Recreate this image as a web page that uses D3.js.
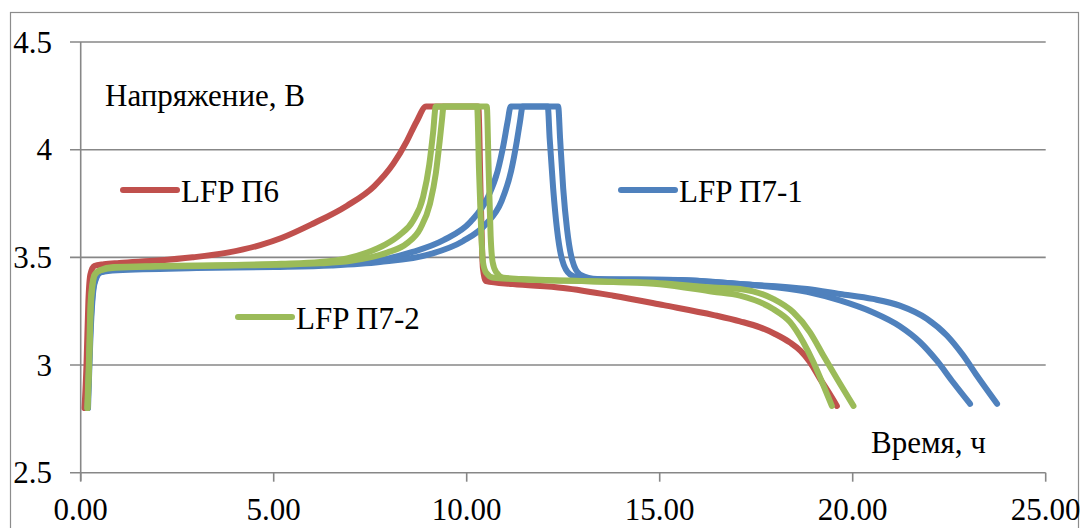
<!DOCTYPE html>
<html>
<head>
<meta charset="utf-8">
<script src="https://cdn.jsdelivr.net/npm/d3@7"></script>
<style>
  html, body { margin: 0; padding: 0; background: #fff; }
  svg { display: block; }
  text { font-family: "Liberation Serif", "Times New Roman", serif; fill: #000; }
</style>
</head>
<body>
<svg id="chart" width="1086" height="528"></svg>
<script>
// Charge/discharge curves: [time, h ; voltage, V]
const lfpP6 = [
  [0.10, 2.80], [0.15, 3.00], [0.20, 3.30], [0.25, 3.42], [0.35, 3.46], [0.60, 3.468],
  [1.00, 3.474], [2.00, 3.485], [2.90, 3.50], [3.80, 3.522], [4.65, 3.557], [5.20, 3.59],
  [6.00, 3.655], [6.90, 3.74], [7.60, 3.83], [8.10, 3.935], [8.45, 4.04], [8.70, 4.13],
  [8.95, 4.20], [10.30, 4.20], [10.36, 3.80], [10.42, 3.45], [10.50, 3.39], [11.20, 3.376],
  [12.50, 3.358], [13.80, 3.322], [15.10, 3.278], [16.40, 3.232], [17.08, 3.203], [17.60, 3.175],
  [18.00, 3.143], [18.38, 3.104], [18.65, 3.066], [18.89, 3.014], [19.15, 2.937], [19.37, 2.875],
  [19.59, 2.81]
];

const lfpP71a = [
  [0.18, 2.80], [0.26, 3.20], [0.35, 3.38], [0.50, 3.43], [0.90, 3.445], [3.00, 3.455],
  [5.00, 3.46], [6.50, 3.468], [7.75, 3.487], [8.60, 3.525], [9.40, 3.58], [10.10, 3.665],
  [10.55, 3.78], [10.80, 3.90], [10.95, 4.02], [11.06, 4.13], [11.14, 4.20], [12.10, 4.20],
  [12.15, 4.05], [12.24, 3.82], [12.34, 3.63], [12.47, 3.49], [12.68, 3.42], [13.00, 3.40],
  [15.50, 3.395], [17.08, 3.376], [18.82, 3.34], [19.67, 3.30], [20.52, 3.245], [21.22, 3.18],
  [21.74, 3.107], [22.18, 3.02], [22.60, 2.92], [23.04, 2.82]
];

const lfpP71b = [
  [0.19, 2.80], [0.27, 3.20], [0.36, 3.38], [0.52, 3.43], [0.95, 3.44], [3.00, 3.45],
  [5.00, 3.455], [6.50, 3.462], [7.75, 3.478], [9.05, 3.515], [9.90, 3.575], [10.50, 3.655],
  [10.90, 3.76], [11.15, 3.90], [11.30, 4.04], [11.38, 4.13], [11.45, 4.20], [12.37, 4.20],
  [12.42, 4.05], [12.50, 3.82], [12.60, 3.63], [12.73, 3.49], [12.94, 3.42], [13.38, 3.40],
  [15.50, 3.395], [17.08, 3.376], [18.82, 3.353], [19.67, 3.33], [20.52, 3.307], [21.22, 3.276],
  [21.92, 3.215], [22.44, 3.137], [22.86, 3.045], [23.22, 2.95], [23.74, 2.82]
];

const lfpP72a = [
  [0.17, 2.80], [0.21, 3.00], [0.26, 3.30], [0.36, 3.42], [0.50, 3.44], [0.85, 3.455],
  [2.00, 3.46], [4.00, 3.465], [5.20, 3.47], [6.20, 3.478], [6.90, 3.495], [7.42, 3.522],
  [7.90, 3.56], [8.27, 3.605], [8.61, 3.67], [8.87, 3.78], [9.03, 3.93], [9.13, 4.08],
  [9.20, 4.20], [10.27, 4.20], [10.32, 3.90], [10.38, 3.60], [10.42, 3.48], [10.50, 3.43],
  [10.70, 3.405], [11.20, 3.40], [13.80, 3.385], [15.00, 3.375], [16.38, 3.34], [17.08, 3.322],
  [17.94, 3.26], [18.38, 3.199], [18.72, 3.106], [18.98, 3.014], [19.24, 2.906], [19.46, 2.81]
];

const lfpP72b = [
  [0.18, 2.80], [0.22, 3.00], [0.27, 3.30], [0.37, 3.42], [0.52, 3.44], [0.90, 3.452],
  [2.00, 3.457], [4.00, 3.462], [5.20, 3.466], [6.20, 3.472], [7.00, 3.484], [7.50, 3.50],
  [7.94, 3.522], [8.45, 3.565], [8.80, 3.635], [9.05, 3.75], [9.20, 3.89], [9.30, 4.04],
  [9.36, 4.14], [9.40, 4.20], [10.52, 4.20], [10.57, 3.90], [10.62, 3.60], [10.67, 3.48],
  [10.77, 3.43], [10.95, 3.405], [11.40, 3.40], [13.80, 3.387], [15.00, 3.38], [16.38, 3.36],
  [17.08, 3.353], [17.94, 3.307], [18.46, 3.245], [18.89, 3.153], [19.24, 3.044], [19.59, 2.937],
  [20.02, 2.81]
];

const xTicks = [0, 5, 10, 15, 20, 25];
const yTicks = [2.5, 3, 3.5, 4, 4.5];

const series = [
  { name: "LFP П6",   color: "#C0504D", curves: [lfpP6] },
  { name: "LFP П7-1", color: "#4F81BD", curves: [lfpP71a, lfpP71b] },
  { name: "LFP П7-2", color: "#9BBB59", curves: [lfpP72a, lfpP72b] }
];

const svg = d3.select("#chart");

// outer chart frame
svg.append("rect")
  .attr("x", 10.5).attr("y", 12.5)
  .attr("width", 1068).attr("height", 540)
  .attr("fill", "none").attr("stroke", "#8c8c8c").attr("stroke-width", 1.2);

const x = d3.scaleLinear().domain([0, 25]).range([80.7, 1045.7]);
const y = d3.scaleLinear().domain([2.5, 4.5]).range([472.7, 42]);

const gridColor = "#878787";

// horizontal gridlines (extend left as tick marks)
svg.append("g").selectAll("line").data(yTicks).join("line")
  .attr("x1", 70).attr("x2", x(25))
  .attr("y1", d => y(d)).attr("y2", d => y(d))
  .attr("stroke", gridColor).attr("stroke-width", 1.6);

// y axis line
svg.append("line")
  .attr("x1", x(0)).attr("x2", x(0))
  .attr("y1", y(4.5)).attr("y2", y(2.5) + 8)
  .attr("stroke", gridColor).attr("stroke-width", 1.6);

// x axis ticks
svg.append("g").selectAll("line").data(xTicks).join("line")
  .attr("x1", d => x(d)).attr("x2", d => x(d))
  .attr("y1", y(2.5)).attr("y2", y(2.5) + 9)
  .attr("stroke", gridColor).attr("stroke-width", 1.6);

// y tick labels
svg.append("g").selectAll("text").data(yTicks).join("text")
  .attr("x", 52).attr("y", d => y(d) + 10.5)
  .attr("text-anchor", "end")
  .attr("font-size", 31)
  .text(d => d3.format("")(d));

// x tick labels
svg.append("g").selectAll("text").data(xTicks).join("text")
  .attr("x", d => x(d)).attr("y", 520)
  .attr("text-anchor", "middle")
  .attr("font-size", 31)
  .text(d => d3.format(".2f")(d));

// curves
const line = d3.line()
  .x(d => x(d[0])).y(d => y(d[1]))
  .curve(d3.curveMonotoneX);

const plot = svg.append("g");
series.forEach(s => {
  s.curves.forEach(c => {
    plot.append("path")
      .datum(c)
      .attr("d", line)
      .attr("fill", "none")
      .attr("stroke", s.color)
      .attr("stroke-width", 6)
      .attr("stroke-linejoin", "round")
      .attr("stroke-linecap", "round");
  });
});

// axis titles
svg.append("text").attr("x", 105).attr("y", 106).attr("font-size", 31).text("Напряжение, В");
svg.append("text").attr("x", 871).attr("y", 453).attr("font-size", 31).text("Время, ч");

// legend entries placed inside the plot
const legendPos = [
  { x1: 123, y: 190, tx: 181, ty: 202 },
  { x1: 621, y: 190, tx: 679, ty: 202 },
  { x1: 238, y: 317, tx: 296, ty: 329 }
];
series.forEach((s, i) => {
  const p = legendPos[i];
  svg.append("line")
    .attr("x1", p.x1).attr("x2", p.x1 + 54)
    .attr("y1", p.y).attr("y2", p.y)
    .attr("stroke", s.color).attr("stroke-width", 6)
    .attr("stroke-linecap", "round");
  svg.append("text").attr("x", p.tx).attr("y", p.ty).attr("font-size", 31).text(s.name);
});
</script>
</body>
</html>
